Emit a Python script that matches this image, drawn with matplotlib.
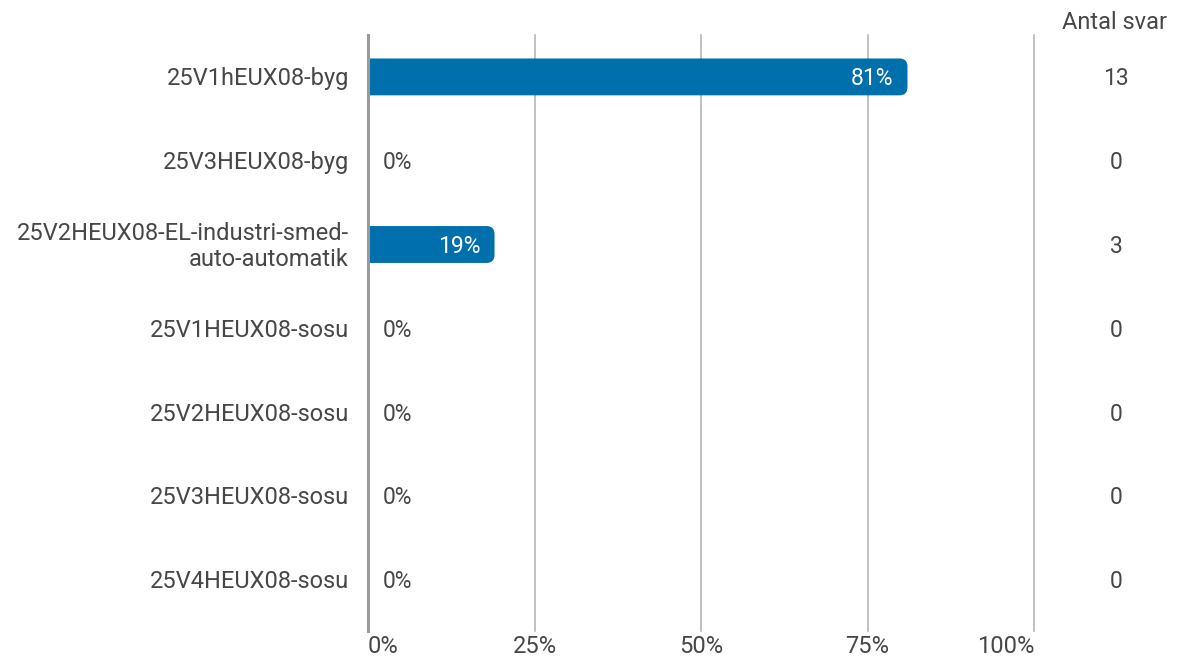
import matplotlib
matplotlib.use("Agg")
import matplotlib.pyplot as plt
from matplotlib.patches import PathPatch
from matplotlib.path import Path

categories = ["25V1hEUX08-byg", "25V3HEUX08-byg",
              "25V2HEUX08-EL-industri-smed-\nauto-automatik",
              "25V1HEUX08-sosu", "25V2HEUX08-sosu",
              "25V3HEUX08-sosu", "25V4HEUX08-sosu"]
values = [81, 0, 19, 0, 0, 0, 0]
counts = [13, 0, 3, 0, 0, 0, 0]
xticks = [0, 25, 50, 75, 100]
xticklabels = ["0%", "25%", "50%", "75%", "100%"]
count_header = "Antal svar"

plt.rcParams['font.family'] = ['Roboto', 'DejaVu Sans']
W, H = 1179, 663
fig = plt.figure(figsize=(W / 100, H / 100), dpi=100)
left, right, top, bottom = 368, 1034, 35, 621.6
ax = fig.add_axes([left / W, 1 - bottom / H, (right - left) / W, (bottom - top) / H])

n = len(categories)
ax.set_xlim(0, 100)
ax.set_ylim(n - 0.5, -0.5)
for s in ["top", "right", "bottom", "left"]:
    ax.spines[s].set_visible(False)

px_x = (right - left) / 100.0
px_y = (bottom - top) / n
ext = 9 / px_y
ax.plot([0, 0], [-0.5, n - 0.5 + ext], color="#9a9a9a", lw=2.2, clip_on=False, zorder=5)
for t in xticks[1:]:
    ax.plot([t, t], [-0.5, n - 0.5 + ext], color="#b0b0b0", lw=1.1, clip_on=False, zorder=0)

bar_color = "#0070ad"
bh = 0.44
rx = 8 / px_x
ry = 8 / px_y
text_color = "#474747"
fs = 17
dy = 2 / px_y


def rounded_bar(v, yc):
    y0, y1 = yc - bh / 2, yc + bh / 2
    verts = [(0, y0), (v - rx, y0), (v, y0), (v, y0 + ry), (v, y1 - ry),
             (v, y1), (v - rx, y1), (0, y1), (0, y0)]
    codes = [Path.MOVETO, Path.LINETO, Path.CURVE3, Path.CURVE3, Path.LINETO,
             Path.CURVE3, Path.CURVE3, Path.LINETO, Path.CLOSEPOLY]
    return PathPatch(Path(verts, codes), fc=bar_color, ec="none", zorder=2)


for i, (v, c) in enumerate(zip(values, counts)):
    if v > 0:
        ax.add_patch(rounded_bar(v, i))
        ax.text(v - 2.1, i + dy, f"{v}%", ha="right", va="center", color="white",
                fontsize=16.5, zorder=3)
    else:
        ax.text(2.2, i + dy, f"{v}%", ha="left", va="center", color=text_color,
                fontsize=16.5, zorder=3)
    ax.text(-19 / px_x, i + dy, categories[i], ha="right", va="center", color=text_color,
            fontsize=fs, linespacing=1.15, multialignment="right")
    ax.text((1116 - left) / px_x, i + dy, str(c), ha="center", va="center",
            color=text_color, fontsize=16.5)

ax.text((1115 - left) / px_x, -0.5 - 13 / px_y, count_header, ha="center",
        va="center", color=text_color, fontsize=fs, clip_on=False)

ax.set_yticks([])
ax.set_xticks(xticks)
ax.set_xticklabels(xticklabels)
ax.tick_params(axis="x", length=0, pad=10, labelsize=17, labelcolor=text_color)
labs = ax.get_xticklabels()
labs[0].set_ha("left")
labs[-1].set_ha("right")

fig.savefig("out.png", dpi=100)
